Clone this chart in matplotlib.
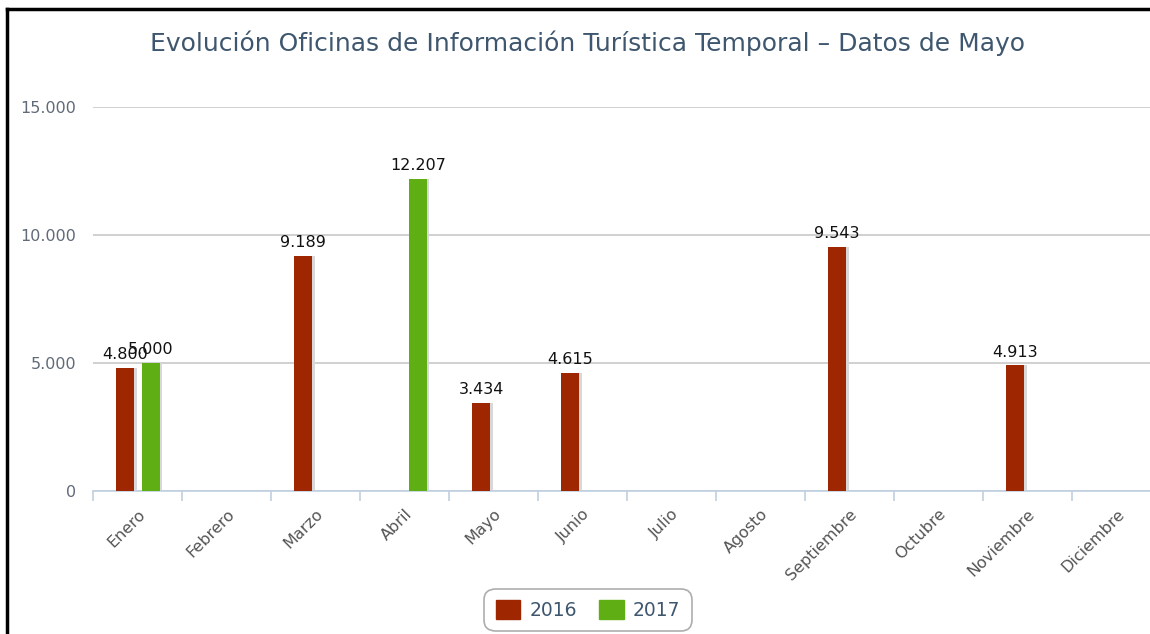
import numpy as np
import matplotlib.pyplot as plt
from matplotlib.lines import Line2D
from matplotlib.patches import Rectangle

# Chart data
months = ['Enero', 'Febrero', 'Marzo', 'Abril', 'Mayo', 'Junio', 'Julio',
          'Agosto', 'Septiembre', 'Octubre', 'Noviembre', 'Diciembre']
values_2016 = [4800, None, 9189, None, 3434, 4615, None, None, 9543, None, 4913, None]
values_2017 = [5000, None, None, 12207, None, None, None, None, None, None, None, None]
series_names = ['2016', '2017']
series_colors = ['#9e2600', '#5fae14']
title = 'Evolución Oficinas de Información Turística Temporal – Datos de Mayo'

fig = plt.figure(figsize=(11.5, 6.34), dpi=100)
ax = fig.add_axes([93 / 1150, 143 / 634, 1068 / 1150, 384 / 634])

x = np.arange(len(months))
bar_w = 0.21
offsets = [-0.14, 0.15]

for vals, off, color in zip([values_2016, values_2017], offsets, series_colors):
    for i, v in enumerate(vals):
        if v is None:
            continue
        # soft shadow to the right of the bar
        ax.bar(x[i] + off + 0.025, v, width=bar_w, color='#d8d8d8', zorder=2)
        ax.bar(x[i] + off, v, width=bar_w, color=color, zorder=3)
        ax.text(x[i] + off, v + 220, f'{v:,}'.replace(',', '.'), ha='center', va='bottom',
                fontsize=11.5, color='#111111', zorder=4)

ax.set_xlim(-0.5, len(months) - 0.5)
ax.set_ylim(0, 15000)
ax.set_yticks([0, 5000, 10000, 15000])
ax.set_yticklabels(['0', '5.000', '10.000', '15.000'])
ax.yaxis.grid(True, color='#c8c8c8', linewidth=1.2, zorder=0)
ax.set_axisbelow(True)

ax.set_xticks(x)
ax.set_xticklabels(months, rotation=45, ha='right', rotation_mode='anchor',
                   fontsize=11.5, color='#555555')
ax.tick_params(axis='x', length=0, pad=11)
ax.set_xticks(np.arange(-0.5, len(months)), minor=True)
ax.tick_params(axis='x', which='minor', length=7, color='#c0d0e0', width=1.2)
ax.tick_params(axis='y', length=0, labelsize=11.5, labelcolor='#606a78', pad=12)

for s in ['top', 'right', 'left']:
    ax.spines[s].set_visible(False)
ax.spines['bottom'].set_color('#c0d0e0')
ax.spines['bottom'].set_linewidth(1.2)

fig.text(588 / 1150, 1 - 43 / 634, title, ha='center', va='center',
         fontsize=18, color='#3e576f')

handles = [Rectangle((0, 0), 1, 1, facecolor=c, edgecolor=c) for c in series_colors]
leg = fig.legend(handles, series_names, loc='center', bbox_to_anchor=(588 / 1150, 1 - 610 / 634),
                 ncol=2, frameon=True, fontsize=13.5, handlelength=1.3, handleheight=1.2,
                 columnspacing=1.2, handletextpad=0.5, borderpad=0.4)
leg.get_frame().set_edgecolor('#999999')
leg.get_frame().set_linewidth(1.2)
leg.get_frame().set_boxstyle('round,pad=0.2,rounding_size=0.6')
for t in leg.get_texts():
    t.set_color('#3e576f')

# black frame on top and left of the screenshot
fig.add_artist(Line2D([7 / 1150, 7 / 1150], [0, 1 - 9 / 634], color='black', linewidth=2.5))
fig.add_artist(Line2D([7 / 1150, 1], [1 - 9 / 634, 1 - 9 / 634], color='black', linewidth=2.5))

fig.savefig('out.png', dpi=100)
